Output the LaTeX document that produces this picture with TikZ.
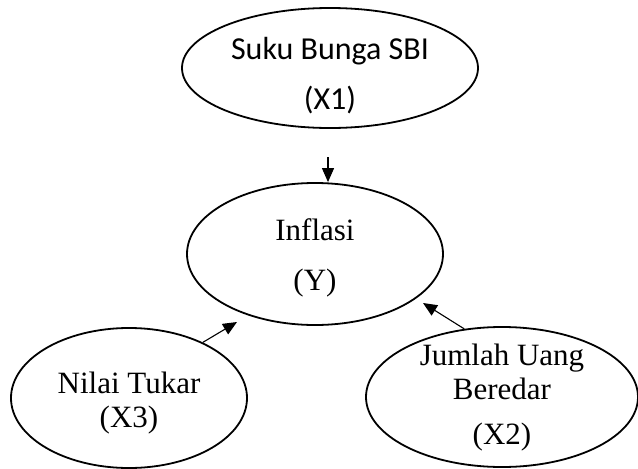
\documentclass[tikz,border=0pt]{standalone}
\usepackage{fontspec}
\setmainfont{Liberation Serif}
\newfontfamily\calibri{Carlito}
\usetikzlibrary{shapes.geometric,arrows.meta}
\begin{document}
\begin{tikzpicture}[x=1pt,y=-1pt,>={Triangle[length=14pt,width=12pt]},
  var/.style={draw,ellipse,line width=1.8pt,inner sep=0pt},
  txt/.style={align=center,inner sep=0pt}]
\useasboundingbox (0,0) rectangle (638,469);
% variables
\node[var,minimum width=296pt,minimum height=120pt](sbi) at (330,68){};
\node[var,minimum width=256pt,minimum height=142pt](inf) at (315,254){};
\node[var,minimum width=236pt,minimum height=140pt](nt) at (129,398){};
\node[var,minimum width=272pt,minimum height=140pt](jub) at (502,397){};
\node[txt,font=\calibri\fontsize{32}{50}\selectfont] at ([yshift=-8pt]sbi) {Suku Bunga SBI\\(X1)};
\node[txt,font=\fontsize{31}{50}\selectfont] at ([yshift=-4pt]inf) {Inflasi\\(Y)};
\node[txt,font=\fontsize{31}{34}\selectfont] at ([yshift=-5pt]nt) {Nilai Tukar\\(X3)};
\node[txt,font=\fontsize{31}{34}\selectfont] at ([yshift=-1pt]jub) {Jumlah Uang\\Beredar\\[11pt](X2)};
% arrows
\coordinate (a1) at (328,157);
\coordinate (a2) at (423,303);
\coordinate (a3) at (237,322);
\draw[->,line width=1.1pt](a1)--(a1|-inf.north);
\draw[->,line width=1.1pt](jub.119)--(a2);
\draw[->,line width=1.1pt](nt.37)--(a3);
\end{tikzpicture}
\end{document}
